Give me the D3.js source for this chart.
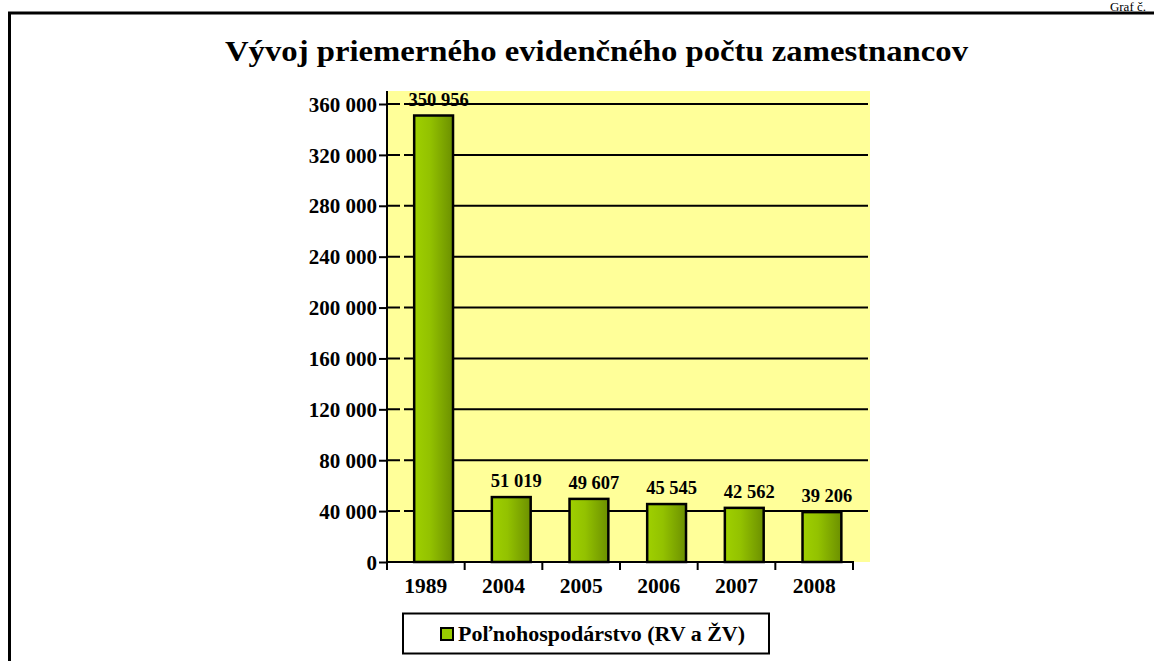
<!DOCTYPE html>
<html>
<head>
<meta charset="utf-8">
<script src="https://cdn.jsdelivr.net/npm/d3@7"></script>
<style>
  html, body { margin: 0; padding: 0; background: #fff; }
  svg { display: block; font-family: "Liberation Serif", "Times New Roman", serif; }
</style>
</head>
<body>
<svg id="chart" width="1154" height="661"></svg>
<script>
const titleText = "Vývoj priemerného evidenčného počtu zamestnancov";
const cornerText = "Graf č.";
const seriesName = "Poľnohospodárstvo (RV a ŽV)";
const categories = ["1989", "2004", "2005", "2006", "2007", "2008"];
const values = [350956, 51019, 49607, 45545, 42562, 39206];
const yTicks = [0, 40000, 80000, 120000, 160000, 200000, 240000, 280000, 320000, 360000];

const svg = d3.select("#chart");
const fmt = v => d3.format(",")(v).replace(/,/g, " ");

// outer frame
svg.append("rect").attr("x", 9.5).attr("y", 13).attr("width", 1300).attr("height", 800)
  .attr("fill", "none").attr("stroke", "#000").attr("stroke-width", 3);
svg.append("text").attr("x", 1146).attr("y", 11).attr("text-anchor", "end")
  .attr("font-size", 13).text(cornerText);

// title
svg.append("text").attr("x", 596.5).attr("y", 61).attr("text-anchor", "middle")
  .attr("font-size", 30).attr("font-weight", "bold")
  .attr("textLength", 743).attr("lengthAdjust", "spacingAndGlyphs").text(titleText);

const x0 = 387, x1 = 853, yBottom = 562, yTop = 104;
const x = d3.scaleBand().domain(categories).range([x0, x1]).paddingInner(0).paddingOuter(0);
const y = d3.scaleLinear().domain([0, 360000]).range([yBottom, yTop]);
const bw = x.bandwidth();

// gradient
const defs = svg.append("defs");
const g = defs.append("linearGradient").attr("id", "barGrad").attr("x1", "0").attr("x2", "1").attr("y1", "0").attr("y2", "0");
g.append("stop").attr("offset", "0%").attr("stop-color", "#9fd000");
g.append("stop").attr("offset", "40%").attr("stop-color", "#93c200");
g.append("stop").attr("offset", "100%").attr("stop-color", "#6c9000");

// wall
svg.append("rect").attr("x", x0).attr("y", 91).attr("width", 870 - x0).attr("height", yBottom - 91)
  .attr("fill", "#ffff99");

// gridlines
svg.append("g").selectAll("line").data(yTicks.filter(d => d > 0)).join("line")
  .attr("x1", x0).attr("x2", 868)
  .attr("y1", d => y(d)).attr("y2", d => y(d))
  .attr("stroke", "#000").attr("stroke-width", 2)
  .attr("stroke-dasharray", "13,4,2000");

// bars
svg.append("g").selectAll("rect").data(values).join("rect")
  .attr("x", (d, i) => x(categories[i]) + bw * 0.35)
  .attr("width", bw * 0.5)
  .attr("y", d => y(d))
  .attr("height", d => yBottom - y(d))
  .attr("fill", "url(#barGrad)")
  .attr("stroke", "#000").attr("stroke-width", 2.5);

// value labels
svg.append("g").selectAll("text").data(values).join("text")
  .attr("x", (d, i) => x(categories[i]) + bw * 0.6 + 5)
  .attr("y", d => y(d) - 10)
  .attr("text-anchor", "middle")
  .attr("font-size", 18.5).attr("font-weight", "bold")
  .text(d => fmt(d));

// y axis
const yAxis = d3.axisLeft(y).tickValues(yTicks).tickSize(8).tickPadding(2).tickFormat(fmt);
const ya = svg.append("g").attr("transform", `translate(${x0},0)`).call(yAxis);
ya.select(".domain").remove();
ya.selectAll(".tick line").attr("stroke", "#000").attr("stroke-width", 2);
ya.selectAll(".tick text").attr("font-size", 21).attr("font-weight", "bold")
  .attr("font-family", "Liberation Serif").attr("fill", "#000").attr("dy", "0.34em");
svg.append("line").attr("x1", x0).attr("x2", x0).attr("y1", 91).attr("y2", yBottom + 1)
  .attr("stroke", "#000").attr("stroke-width", 2);

// x axis
const xAxis = d3.axisBottom(x).tickSize(0).tickPadding(0);
const xa = svg.append("g").attr("transform", `translate(0,${yBottom})`).call(xAxis);
xa.select(".domain").remove();
xa.selectAll(".tick text").attr("font-size", 21.5).attr("font-weight", "bold")
  .attr("font-family", "Liberation Serif").attr("fill", "#000")
  .attr("dy", null).attr("y", 31);
svg.append("line").attr("x1", x0).attr("x2", x1 + 1).attr("y1", yBottom).attr("y2", yBottom)
  .attr("stroke", "#000").attr("stroke-width", 2);
const bounds = categories.map(c => x(c)).concat([x1]);
svg.append("g").selectAll("line").data(bounds).join("line")
  .attr("x1", d => d).attr("x2", d => d).attr("y1", yBottom).attr("y2", yBottom + 8)
  .attr("stroke", "#000").attr("stroke-width", 2);

// legend
const lg = svg.append("g");
lg.append("rect").attr("x", 403).attr("y", 613.5).attr("width", 366).attr("height", 40)
  .attr("fill", "#fff").attr("stroke", "#000").attr("stroke-width", 2);
lg.append("rect").attr("x", 441).attr("y", 628).attr("width", 12).attr("height", 12)
  .attr("fill", "#99cc00").attr("stroke", "#000").attr("stroke-width", 2);
lg.append("text").attr("x", 458).attr("y", 641).attr("font-size", 20.5).attr("font-weight", "bold")
  .attr("textLength", 287).attr("lengthAdjust", "spacingAndGlyphs")
  .text(seriesName);
</script>
</body>
</html>
